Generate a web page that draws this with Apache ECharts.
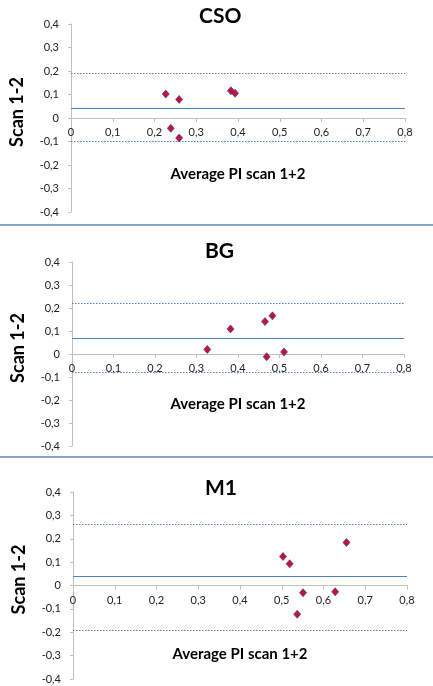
<!DOCTYPE html>
<html><head><meta charset="utf-8">
<script src="https://cdn.jsdelivr.net/npm/echarts@6/dist/echarts.min.js"></script>
<style>html,body{margin:0;padding:0;background:#fff}#c{width:433px;height:686px}</style>
</head><body><div id="c"></div>
<script>
const panelTitles = ['CSO', 'BG', 'M1'];
const xAxisName = 'Average PI scan 1+2';
const yAxisName = 'Scan 1-2';
const xTickLabels = ['0', '0,1', '0,2', '0,3', '0,4', '0,5', '0,6', '0,7', '0,8'];
const yTickLabels = ['-0,4', '-0,3', '-0,2', '-0,1', '0', '0,1', '0,2', '0,3', '0,4'];

const csoX = [0.227, 0.259, 0.239, 0.259, 0.383, 0.393];
const csoY = [0.102, 0.079, -0.044, -0.085, 0.116, 0.105];
const csoMean = 0.044, csoUpper = 0.191, csoLower = -0.103;

const bgX = [0.326, 0.382, 0.465, 0.483, 0.469, 0.511];
const bgY = [0.020, 0.109, 0.141, 0.166, -0.012, 0.009];
const bgMean = 0.070, bgUpper = 0.218, bgLower = -0.080;

const m1X = [0.503, 0.519, 0.655, 0.551, 0.537, 0.628];
const m1Y = [0.124, 0.093, 0.184, -0.031, -0.123, -0.027];
const m1Mean = 0.036, m1Upper = 0.263, m1Lower = -0.190;

const panels = [
  {x: csoX, y: csoY, mean: csoMean, up: csoUpper, lo: csoLower},
  {x: bgX, y: bgY, mean: bgMean, up: bgUpper, lo: bgLower},
  {x: m1X, y: m1Y, mean: m1Mean, up: m1Upper, lo: m1Lower}
];

const layout = [
  {left: 70, right: 28, top: 24, height: 188, titleLeft: 194, titleTop: 1, gapX: 49},
  {left: 72, right: 29, top: 262, height: 184, titleLeft: 200, titleTop: 236, gapX: 43},
  {left: 73, right: 26, top: 492, height: 187, titleLeft: 200, titleTop: 473, gapX: 61}
];

const font = 'Lato, "Open Sans", sans-serif';
const lineBlue = '#4f81bd';
const axisGray = '#bfbfbf';

const option = {
  animation: false,
  backgroundColor: '#fff',
  title: [], grid: [], xAxis: [], yAxis: [], series: [],
  graphic: [
    {type: 'line', shape: {x1: 0, y1: 225, x2: 433, y2: 225}, style: {stroke: '#5f88b5', lineWidth: 1.5}},
    {type: 'line', shape: {x1: 0, y1: 457, x2: 433, y2: 457}, style: {stroke: '#5f88b5', lineWidth: 1.5}}
  ]
};

panels.forEach((p, i) => {
  const L = layout[i];
  option.title.push({
    text: panelTitles[i], left: L.titleLeft, top: L.titleTop,
    textStyle: {fontFamily: font, fontWeight: 'bold', fontSize: 21, color: '#000'}
  });
  option.grid.push({left: L.left, right: L.right, top: L.top, height: L.height});
  option.xAxis.push({
    type: 'value', gridIndex: i, min: 0, max: 0.8, interval: 0.1,
    position: 'bottom', offset: -L.height / 2,
    name: xAxisName, nameLocation: 'middle', nameGap: L.gapX,
    nameTextStyle: {fontFamily: font, fontWeight: 'bold', fontSize: 15, color: '#000'},
    axisLine: {onZero: false, lineStyle: {color: axisGray, width: 1}},
    axisTick: {show: true, length: 4, lineStyle: {color: axisGray}},
    splitLine: {show: false},
    axisLabel: {
      fontFamily: font, fontSize: 11, color: '#222', margin: 9,
      formatter: (v) => xTickLabels[Math.round(v * 10)]
    }
  });
  option.yAxis.push({
    type: 'value', gridIndex: i, min: -0.4, max: 0.4, interval: 0.1,
    name: yAxisName, nameLocation: 'middle', nameGap: 45,
    nameTextStyle: {fontFamily: font, fontWeight: 'bold', fontSize: 18, color: '#000', padding: [0, 0, 0, 12]},
    axisLine: {show: true, onZero: false, lineStyle: {color: axisGray, width: 1}},
    axisTick: {show: true, length: 3, lineStyle: {color: axisGray}},
    splitLine: {show: false},
    axisLabel: {
      fontFamily: font, fontSize: 11, color: '#222', margin: 12,
      formatter: (v) => yTickLabels[Math.round(v * 10) + 4]
    }
  });
  option.series.push({
    type: 'scatter', xAxisIndex: i, yAxisIndex: i,
    data: p.x.map((xv, k) => [xv, p.y[k]]),
    symbol: 'diamond', symbolSize: [7, 8],
    itemStyle: {color: '#c0143c', borderColor: '#4b3b8c', borderWidth: 0.7, opacity: 1},
    z: 5,
    markLine: {
      silent: true, symbol: 'none', label: {show: false},
      emphasis: {disabled: true},
      data: [
        {yAxis: p.mean, lineStyle: {type: 'solid', color: lineBlue, width: 1}},
        {yAxis: p.up, lineStyle: {type: [1.5, 1.5], color: lineBlue, width: 1}},
        {yAxis: p.lo, lineStyle: {type: [1.5, 1.5], color: lineBlue, width: 1}}
      ]
    }
  });
});

const chart = echarts.init(document.getElementById('c'), null, {renderer: 'canvas'});
chart.setOption(option);
</script>
</body></html>
